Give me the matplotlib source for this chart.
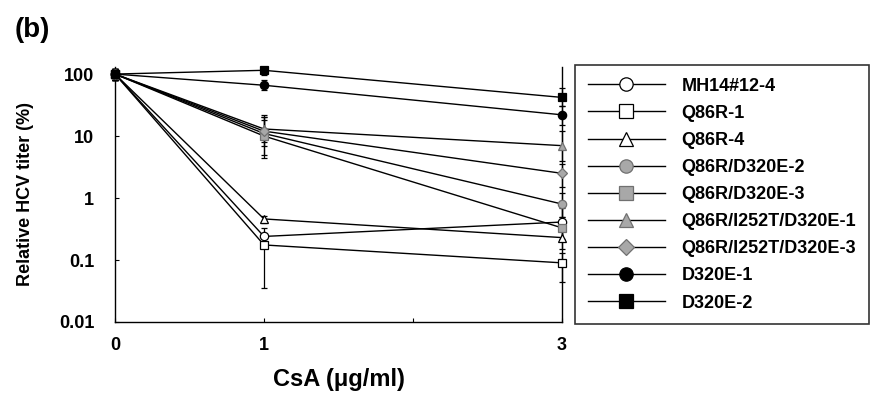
import numpy as np
import matplotlib
matplotlib.use("Agg")
import matplotlib.pyplot as plt

plt.rcParams['font.family'] = ['Liberation Sans', 'DejaVu Sans']
plt.rcParams['font.weight'] = 'bold'

# CsA dose (µg/ml)
doses = [0, 1, 3]
x_ticks = [0, 1, 2, 3]
x_ticklabels = ["0", "1", "", "3"]
y_ticks = [0.01, 0.1, 1, 10, 100]
y_ticklabels = ["0.01", "0.1", "1", "10", "100"]

names = ["MH14#12-4", "Q86R-1", "Q86R-4", "Q86R/D320E-2", "Q86R/D320E-3",
         "Q86R/I252T/D320E-1", "Q86R/I252T/D320E-3", "D320E-1", "D320E-2"]

# relative HCV titer (%) at 0, 1, 3 µg/ml
mh14 = [100, 0.24, 0.41]
q86r_1 = [100, 0.175, 0.09]
q86r_4 = [100, 0.46, 0.23]
q86r_d320e_2 = [100, 11, 0.8]
q86r_d320e_3 = [100, 10, 0.33]
q86r_i252t_d320e_1 = [100, 13, 7]
q86r_i252t_d320e_3 = [100, 12, 2.5]
d320e_1 = [100, 66, 22]
d320e_2 = [100, 115, 42]

# error bar lower / upper bounds
mh14_lo = [80, 0.17, 0.22]
mh14_hi = [120, 0.33, 0.7]
q86r_1_lo = [80, 0.036, 0.045]
q86r_1_hi = [120, 0.25, 0.13]
q86r_4_lo = [80, 0.40, 0.15]
q86r_4_hi = [120, 0.52, 0.3]
q86r_d320e_2_lo = [80, 4.5, 0.5]
q86r_d320e_2_hi = [120, 22, 1.2]
q86r_d320e_3_lo = [80, 5, 0.2]
q86r_d320e_3_hi = [120, 20, 0.5]
q86r_i252t_d320e_1_lo = [80, 8, 4]
q86r_i252t_d320e_1_hi = [120, 20, 12]
q86r_i252t_d320e_3_lo = [80, 7, 1.5]
q86r_i252t_d320e_3_hi = [120, 18, 3.5]
d320e_1_lo = [80, 55, 15]
d320e_1_hi = [120, 80, 30]
d320e_2_lo = [80, 95, 30]
d320e_2_hi = [120, 130, 60]

series = [mh14, q86r_1, q86r_4, q86r_d320e_2, q86r_d320e_3,
          q86r_i252t_d320e_1, q86r_i252t_d320e_3, d320e_1, d320e_2]
lows = [mh14_lo, q86r_1_lo, q86r_4_lo, q86r_d320e_2_lo, q86r_d320e_3_lo,
        q86r_i252t_d320e_1_lo, q86r_i252t_d320e_3_lo, d320e_1_lo, d320e_2_lo]
highs = [mh14_hi, q86r_1_hi, q86r_4_hi, q86r_d320e_2_hi, q86r_d320e_3_hi,
         q86r_i252t_d320e_1_hi, q86r_i252t_d320e_3_hi, d320e_1_hi, d320e_2_hi]

markers = ["o", "s", "^", "o", "s", "^", "D", "o", "s"]
faces = ["white", "white", "white", "#a8a8a8", "#a8a8a8", "#a8a8a8", "#a8a8a8", "black", "black"]
edges = ["black", "black", "black", "#707070", "#707070", "#707070", "#707070", "black", "black"]

fig = plt.figure(figsize=(8.72, 3.97), dpi=100)
ax = fig.add_axes([115/872, 1-322/397, (562-115)/872, (322-67)/397])

handles = []
for vals, lo, hi, name, m, fc, ec in zip(series, lows, highs, names, markers, faces, edges):
    vals = np.array(vals, dtype=float)
    yerr = [vals - np.array(lo), np.array(hi) - vals]
    eb = ax.errorbar(doses, vals, yerr=yerr, fmt="none", ecolor="black",
                     elinewidth=0.9, capsize=2.5, capthick=0.9, zorder=2)
    for art in eb.lines[1] + eb.lines[2]:
        art.set_clip_on(False)
    h, = ax.plot(doses, vals, color="black", lw=1.0, marker=m,
                 ms=6 if m != "D" else 5, mfc=fc, mec=ec, mew=0.9,
                 label=name, zorder=3, clip_on=False)
    handles.append(h)

ax.set_yscale("log")
ax.set_ylim(0.01, 130)
ax.set_xlim(0, 3)
ax.set_xticks(x_ticks)
ax.set_xticklabels(x_ticklabels)
ax.set_yticks(y_ticks)
ax.set_yticklabels(y_ticklabels)
ax.yaxis.set_minor_locator(matplotlib.ticker.NullLocator())
ax.tick_params(axis="both", direction="in", length=3, width=0.8, labelsize=13)
ax.tick_params(axis="x", pad=11)
ax.tick_params(axis="y", pad=15)
for lab in ax.get_xticklabels() + ax.get_yticklabels():
    lab.set_fontweight("bold")
ax.spines["top"].set_visible(False)
for s in ["left", "bottom", "right"]:
    ax.spines[s].set_linewidth(1.0)

ax.set_ylabel("Relative HCV titer (%)", fontsize=13, fontweight="bold", labelpad=18)
ax.set_xlabel("CsA (\u03bcg/ml)", fontsize=17, fontweight="bold", labelpad=10)

fig.text(15/872, 1-30/397, "(b)", fontsize=20, fontweight="bold", va="center")

leg = fig.legend(handles=handles, loc="upper left",
                 bbox_to_anchor=(575/872, 1-65/397), borderaxespad=0,
                 frameon=True, fancybox=False,
                 edgecolor="black", handlelength=4.3, handletextpad=0.9,
                 labelspacing=0.56, borderpad=0.7, markerscale=1.6,
                 prop={"weight": "bold", "size": 13})
leg.get_frame().set_linewidth(1.2)

fig.savefig("out.png", dpi=100)
